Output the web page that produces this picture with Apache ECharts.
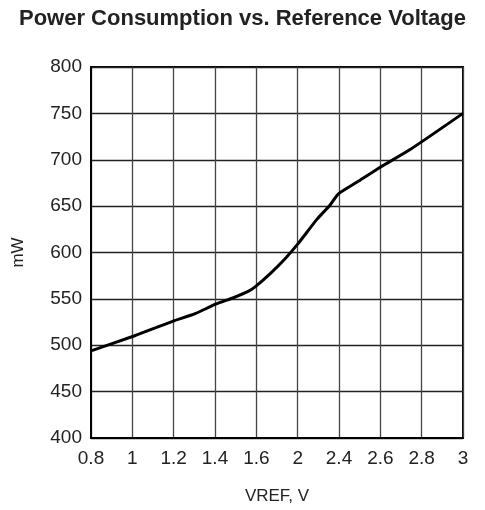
<!DOCTYPE html>
<html>
<head>
<meta charset="utf-8">
<script src="https://cdn.jsdelivr.net/npm/echarts@6/dist/echarts.min.js"></script>
<style>html,body{margin:0;padding:0;background:#fff;}#c{width:485px;height:510px;}</style>
</head>
<body>
<div id="c"></div>
<script>
// x tick labels (evenly spaced positions, as printed in the source)
const xTickLabels = ['0.8', '1', '1.2', '1.4', '1.6', '2', '2.4', '2.6', '2.8', '3'];
// curve sample positions in tick-index units
const curveX = [0, 1.04, 1.99, 2.52, 3.0, 3.46, 3.8, 3.97, 4.33, 4.69, 5.0, 5.47, 5.78, 5.98, 6.44, 7.0, 7.72, 9.0];
// power consumption, mW
const powerMW = [494, 510, 526, 534, 544, 551.5, 558, 563, 577, 593, 609, 636, 651, 663, 676, 692, 711, 750];

const chart = echarts.init(document.getElementById('c'), null, {renderer: 'canvas'});
const font = 'Liberation Sans, Arial, Helvetica, sans-serif';
chart.setOption({
  animation: false,
  backgroundColor: '#fff',
  title: {
    text: 'Power Consumption vs. Reference Voltage',
    left: 'center',
    top: 3,
    textStyle: {fontFamily: font, fontWeight: 'bold', fontSize: 22, color: '#222'}
  },
  grid: {left: 91, right: 22, top: 67, bottom: 69, show: true, borderColor: '#000', borderWidth: 2},
  xAxis: {
    type: 'value', min: 0, max: 9, interval: 1,
    name: 'VREF, V', nameLocation: 'middle', nameGap: 50,
    nameTextStyle: {fontFamily: font, fontSize: 17, color: '#222'},
    axisLine: {show: true, lineStyle: {color: '#000', width: 2}},
    axisTick: {show: false},
    axisLabel: {fontFamily: font, fontSize: 19, color: '#222', margin: 11,
      formatter: v => xTickLabels[Math.round(v)]},
    splitLine: {show: true, lineStyle: {color: '#444', width: 1.3}}
  },
  yAxis: {
    type: 'value', min: 400, max: 800, interval: 50,
    name: 'mW', nameLocation: 'middle', nameGap: 64,
    nameTextStyle: {fontFamily: font, fontSize: 17, color: '#222'},
    axisLine: {show: true, lineStyle: {color: '#000', width: 2}},
    axisTick: {show: false},
    axisLabel: {fontFamily: font, fontSize: 19, color: '#222', margin: 9},
    splitLine: {show: true, lineStyle: {color: '#222', width: 1.3}}
  },
  series: [{
    type: 'line',
    data: curveX.map((x, i) => [x, powerMW[i]]),
    showSymbol: false,
    smooth: 0.2,
    lineStyle: {color: '#000', width: 3}
  }]
});
</script>
</body>
</html>
